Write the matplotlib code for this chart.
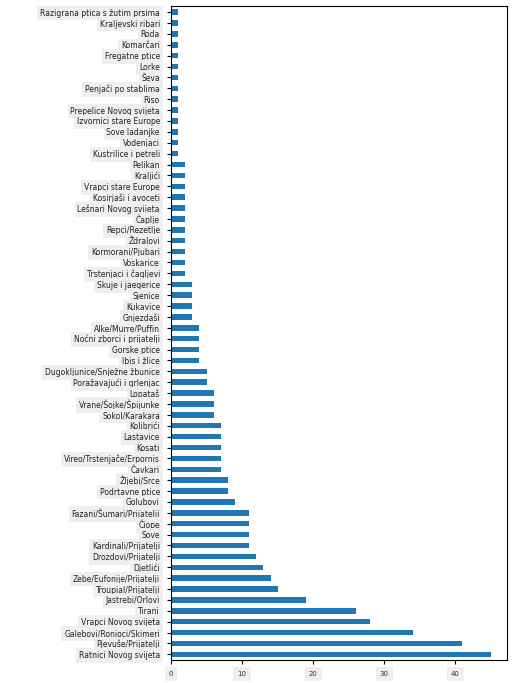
import matplotlib
matplotlib.use("Agg")
import matplotlib.pyplot as plt
import numpy as np

# Categories top to bottom as shown
categories = [
    "Razigrana ptica s žutim prsima", "Kraljevski ribari", "Roda", "Komarčari",
    "Fregatne ptice", "Lorke", "Ševa", "Penjači po stablima", "Riso",
    "Prepelice Novog svijeta", "Izvornici stare Europe", "Sove ladanjke",
    "Vodenjaci", "Kustrilice i petreli",
    "Pelikan", "Kraljići", "Vrapci stare Europe", "Kosirjaši i avoceti",
    "Lešnari Novog svijeta", "Čaplje", "Repci/Rezetlje", "Ždralovi",
    "Kormorani/Pjubari", "Voskarice", "Trstenjaci i čagljevi",
    "Skuje i jaegerice", "Sjenice", "Kukavice", "Gnjezdaši",
    "Alke/Murre/Puffin", "Noćni zborci i prijatelji", "Gorske ptice",
    "Ibis i žlice", "Dugokljunice/Snježne žbunice", "Poražavajući i grlenjac",
    "Lopataš", "Vrane/Šojke/Špijunke", "Sokol/Karakara", "Kolibrići",
    "Lastavice", "Kosati", "Vireo/Trstenjače/Erpornis", "Čavkari",
    "Žljebi/Srce", "Podrtavne ptice", "Golubovi", "Fazani/Šumari/Prijatelji",
    "Čiope", "Sove", "Kardinali/Prijatelji", "Drozdovi/Prijatelji",
    "Djetlići", "Zebe/Eufonije/Prijatelji", "Troupial/Prijatelji",
    "Jastrebi/Orlovi", "Tirani", "Vrapci Novog svijeta",
    "Galebovi/Ronioci/Skimeri", "Pjevuše/Prijatelji", "Ratnici Novog svijeta",
]
counts = [
    1, 1, 1, 1, 1, 1, 1, 1, 1, 1, 1, 1, 1, 1,
    2, 2, 2, 2, 2, 2, 2, 2, 2, 2, 2,
    3, 3, 3, 3,
    4, 4, 4, 4,
    5, 5,
    6, 6, 6,
    7, 7, 7, 7, 7,
    8, 8,
    9,
    11, 11, 11, 11,
    12, 13, 14, 15, 19, 26, 28, 34, 41, 45,
]
xticks = [0, 10, 20, 30, 40]

fig = plt.figure(figsize=(5.12, 6.83), dpi=100)
ax = fig.add_axes([0.334, 0.034, 0.656, 0.957])
y = np.arange(len(categories))
ax.barh(y, counts, height=0.5, color="#1f77b4")
ax.set_yticks(y)
ax.set_yticklabels(categories, fontsize=5.5, color="#222222")
for lbl in ax.get_yticklabels():
    lbl.set_bbox(dict(facecolor="#efefef", edgecolor="none", pad=2.0))
ax.invert_yaxis()
ax.set_ylim(len(categories) - 0.5, -0.55)
ax.set_xticks(xticks)
ax.set_xticklabels([str(t) for t in xticks], fontsize=5, color="#333333")
for lbl in ax.get_xticklabels():
    lbl.set_bbox(dict(facecolor="#efefef", edgecolor="none", pad=3))
ax.tick_params(axis="y", length=3, pad=5)
ax.tick_params(axis="x", length=3, pad=5)
fig.savefig("out.png", dpi=100)
